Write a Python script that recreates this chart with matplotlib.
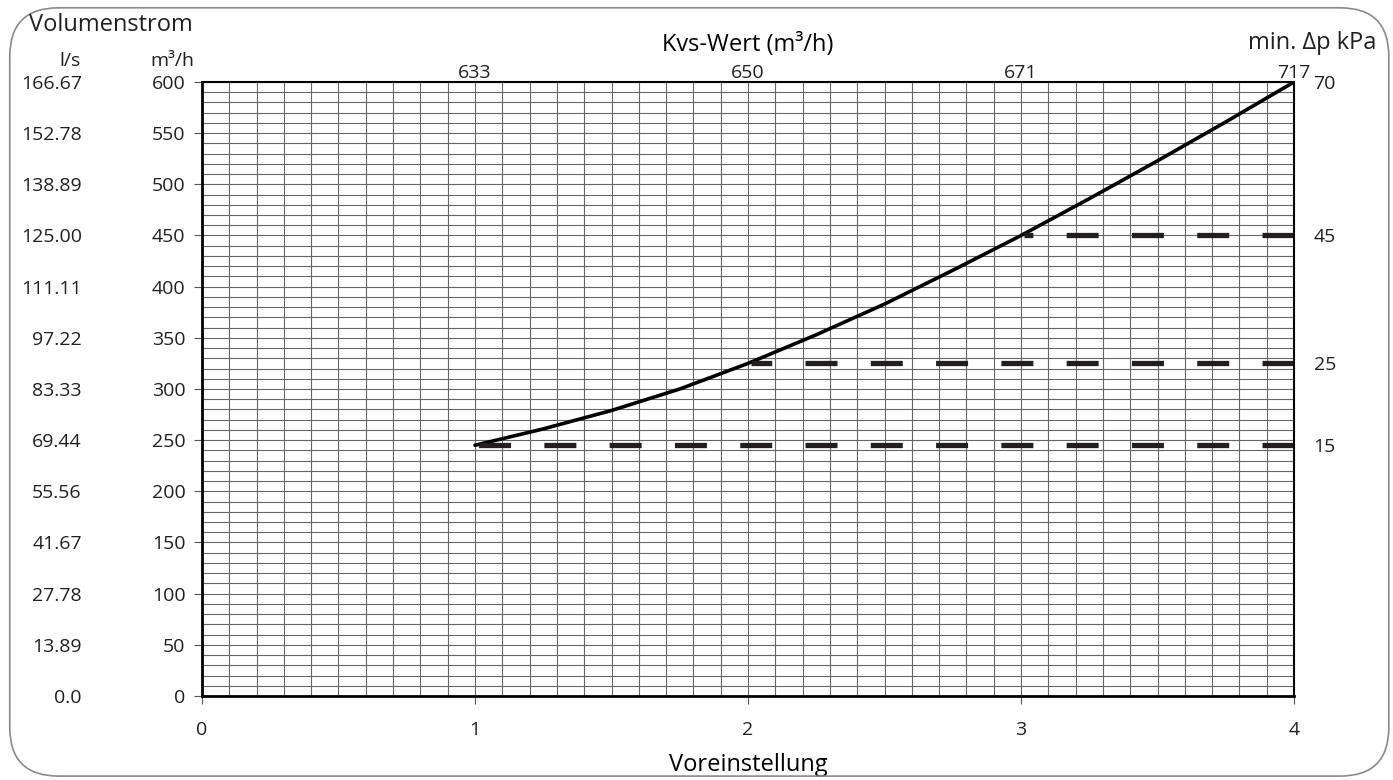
import matplotlib
matplotlib.use("Agg")
import matplotlib.pyplot as plt
from matplotlib.patches import FancyBboxPatch
import numpy as np

plt.rcParams['font.family'] = ['Open Sans', 'DejaVu Sans']
plt.rcParams['text.color'] = '#231f20'
plt.rcParams['xtick.labelcolor'] = '#231f20'
plt.rcParams['ytick.labelcolor'] = '#231f20'

# curve: Voreinstellung vs Volumenstrom (m3/h)
preset = [1, 1.25, 1.5, 1.75, 2, 2.25, 2.5, 2.75, 3, 3.25, 3.5, 3.75, 4]
flow = [245, 261, 279, 300, 325, 353, 383, 416, 450, 486, 523, 561, 600]

# min. dp lines (start preset, flow level, kPa label)
dp_start = [1, 2, 3]
dp_flow = [245, 325, 450]
dp_kpa = ["15", "25", "45"]

y_ticks = [0, 50, 100, 150, 200, 250, 300, 350, 400, 450, 500, 550, 600]
ls_labels = ["0.0", "13.89", "27.78", "41.67", "55.56", "69.44", "83.33",
             "97.22", "111.11", "125.00", "138.89", "152.78", "166.67"]
kvs_pos = [1, 2, 3, 4]
kvs_labels = ["633", "650", "671", "717"]

TS = 14  # tick label size
LS = 17  # label size

fig = plt.figure(figsize=(13.93, 7.8), dpi=100)
ax = fig.add_axes([0.145, 0.1077, 0.784, 0.7872])

# rounded frame around everything
frame = FancyBboxPatch((0.007, 0.005), 0.99, 0.985, boxstyle="round,pad=0,rounding_size=0.035",
                       transform=fig.transFigure, fill=False, ec="#8a8a8a", lw=1.2,
                       mutation_aspect=1393 / 780)
fig.patches.append(frame)

ax.set_xlim(0, 4)
ax.set_ylim(0, 600)
ax.set_xticks([0, 1, 2, 3, 4])
ax.set_yticks(y_ticks)
ax.set_xticks(np.arange(0, 4.001, 0.1), minor=True)
ax.set_yticks(np.arange(0, 600.1, 10), minor=True)
ax.grid(which="both", color="#666666", lw=0.8)
ax.set_axisbelow(True)
ax.tick_params(which="minor", length=0)
ax.tick_params(which="major", length=6, width=0.8, color="#555555", labelsize=TS, pad=6)
ax.tick_params(axis="x", pad=12)
for s in ["left", "bottom"]:
    ax.spines[s].set_linewidth(2)
for s in ["top", "right"]:
    ax.spines[s].set_linewidth(1.5)

ax.plot(preset, flow, color="black", lw=2.6, solid_capstyle="round", solid_joinstyle="round")
# dashes drawn from the right edge so they end cleanly at 4
for x0, yv in zip(dp_start, dp_flow):
    ax.plot([4, x0 + 0.01], [yv, yv], color="#231f20", lw=3.8,
            linestyle=(0, (6.06, 6.31)), dash_capstyle="butt")

ax.set_xlabel("Voreinstellung", fontsize=LS, labelpad=10)

# l/s column
sec = ax.secondary_yaxis(-0.11)
sec.set_yticks(y_ticks)
sec.set_yticklabels(ls_labels)
sec.tick_params(length=0, labelsize=TS, pad=0)
sec.spines["left"].set_visible(False)

# kPa on the right
right = ax.secondary_yaxis("right")
right.set_yticks([600] + dp_flow)
right.set_yticklabels(["70"] + dp_kpa)
right.tick_params(length=0, labelsize=TS, pad=14)
right.spines["right"].set_visible(False)

# Kvs on top
top = ax.secondary_xaxis("top")
top.set_xticks(kvs_pos)
top.set_xticklabels(kvs_labels)
top.tick_params(length=0, labelsize=TS, pad=0)
top.spines["top"].set_visible(False)
top.set_xlabel("Kvs-Wert (m³/h)", fontsize=LS, labelpad=9)

fig.text(0.021, 0.968, "Volumenstrom", fontsize=LS, va="center", ha="left")
fig.text(0.050, 0.922, "l/s", fontsize=TS, va="center", ha="center")
fig.text(0.1235, 0.922, "m³/h", fontsize=TS, va="center", ha="center")
fig.text(0.988, 0.945, "min. Δp kPa", fontsize=LS, va="center", ha="right")

fig.savefig("out.png", dpi=100)
